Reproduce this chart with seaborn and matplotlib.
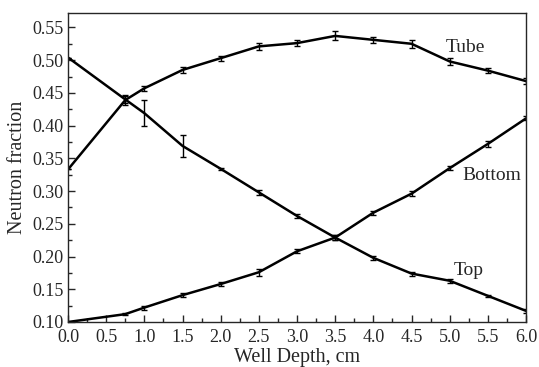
import matplotlib
matplotlib.use("Agg")
import matplotlib.pyplot as plt
import seaborn as sns
import pandas as pd
import numpy as np
from matplotlib.ticker import MultipleLocator

depth = [0.0, 0.75, 1.0, 1.5, 2.0, 2.5, 3.0, 3.5, 4.0, 4.5, 5.0, 5.5, 6.0]
tube = [0.333, 0.439, 0.457, 0.485, 0.503, 0.521, 0.526, 0.537, 0.531, 0.525, 0.498, 0.484, 0.468]
tube_err = [0.0, 0.007, 0.004, 0.005, 0.004, 0.005, 0.005, 0.007, 0.005, 0.006, 0.005, 0.004, 0.004]
top = [0.504, 0.440, 0.419, 0.369, 0.334, 0.298, 0.262, 0.229, 0.198, 0.174, 0.163, 0.140, 0.117]
top_err = [0.0, 0.005, 0.020, 0.017, 0.002, 0.004, 0.003, 0.004, 0.003, 0.003, 0.003, 0.002, 0.003]
bottom = [0.100, 0.112, 0.122, 0.141, 0.158, 0.176, 0.208, 0.229, 0.267, 0.296, 0.335, 0.372, 0.411]
bottom_err = [0.0, 0.002, 0.003, 0.003, 0.003, 0.005, 0.003, 0.004, 0.003, 0.004, 0.003, 0.004, 0.003]
series_names = ["Tube", "Top", "Bottom"]
x_ticks = [0.0, 0.5, 1.0, 1.5, 2.0, 2.5, 3.0, 3.5, 4.0, 4.5, 5.0, 5.5, 6.0]
y_ticks = [0.10, 0.15, 0.20, 0.25, 0.30, 0.35, 0.40, 0.45, 0.50, 0.55]

sns.set_style("ticks")
plt.rcParams['font.family'] = ['Liberation Serif', 'DejaVu Serif']
plt.rcParams['xtick.direction'] = 'in'
plt.rcParams['ytick.direction'] = 'in'

frames = []
for name, vals, errs in zip(series_names, [tube, top, bottom], [tube_err, top_err, bottom_err]):
    frames.append(pd.DataFrame({"depth": depth, "value": vals, "err": errs, "series": name}))
df = pd.concat(frames, ignore_index=True)

fig = plt.figure(figsize=(5.39, 3.67), dpi=100)
ax = fig.add_axes([68/539, 1 - 322/367, (526-68)/539, (322-13)/367])

sns.lineplot(data=df, x="depth", y="value", hue="series", palette=["black"]*3,
             linewidth=1.8, legend=False, ax=ax, sort=False)
for name in series_names:
    d = df[df.series == name]
    ax.errorbar(d.depth, d.value, yerr=d.err, fmt="none", ecolor="black",
                elinewidth=1.0, capsize=2.5, capthick=1.0)

ax.set_xlim(0, 6.0)
ax.set_ylim(0.10, 0.572)
ax.set_xticks(x_ticks)
ax.set_xticklabels([f"{v:.1f}" for v in x_ticks])
ax.set_yticks(y_ticks)
ax.set_yticklabels([f"{v:.2f}" for v in y_ticks])
ax.xaxis.set_minor_locator(MultipleLocator(0.25))
ax.yaxis.set_minor_locator(MultipleLocator(0.025))
ax.tick_params(which="major", length=5, width=1, labelsize=13)
ax.tick_params(axis="x", which="major", pad=5)
ax.tick_params(axis="y", which="major", pad=3)
ax.tick_params(which="minor", length=3, width=1)
for s in ax.spines.values():
    s.set_linewidth(1.0)
ax.set_xlabel("Well Depth, cm", fontsize=14.5, labelpad=1.5)
ax.set_ylabel("Neutron fraction", fontsize=14.5, labelpad=4)

ax.text(4.95, 0.519, "Tube", fontsize=14, ha="left", va="center")
ax.text(5.17, 0.324, "Bottom", fontsize=14, ha="left", va="center")
ax.text(5.05, 0.178, "Top", fontsize=14, ha="left", va="center")

fig.savefig("out.png", dpi=100)
